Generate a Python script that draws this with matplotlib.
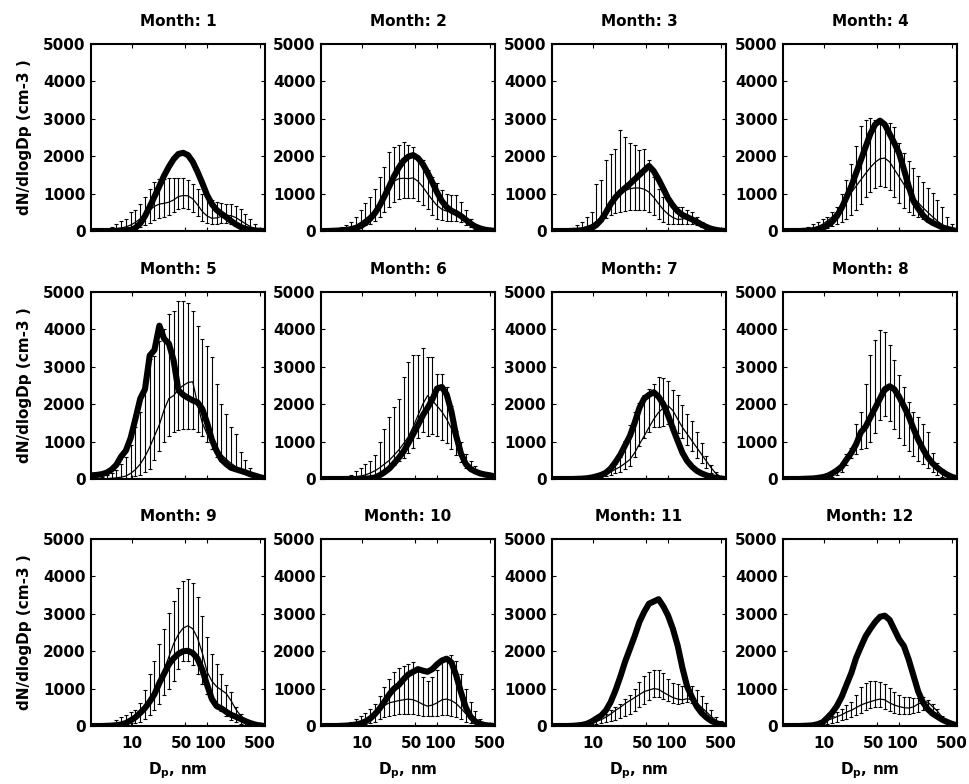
import numpy as np
import matplotlib
matplotlib.use("Agg")
import matplotlib.pyplot as plt
from matplotlib.ticker import FixedLocator, NullLocator, FixedFormatter
from matplotlib.transforms import ScaledTranslation

plt.rcParams['font.family'] = ['DejaVu Sans']
plt.rcParams['font.weight'] = 'bold'
plt.rcParams['font.size'] = 11
plt.rcParams['mathtext.fontset'] = 'custom'
plt.rcParams['mathtext.rm'] = 'DejaVu Sans:bold'
plt.rcParams['mathtext.it'] = 'DejaVu Sans:bold'
plt.rcParams['mathtext.bf'] = 'DejaVu Sans:bold'

# particle diameter bins, nm
dp = [3.0, 3.47, 4.01, 4.64, 5.37, 6.22, 7.19, 8.32, 9.63, 11.1, 12.9, 14.9, 17.2,
      19.9, 23.1, 26.7, 30.9, 35.7, 41.3, 47.8, 55.3, 64.0, 74.1, 85.7, 99.1, 114.7,
      132.7, 153.6, 177.6, 205.5, 237.7, 275, 318, 368, 426, 493, 570]

# thick line, one row per month
thick = [
    [0,0,0,0,0,5,10,20,30,80,200,400,650,920,1200,1480,1720,1920,2060,2090,2030,1850,1580,1280,960,720,560,460,370,270,180,110,60,30,15,5,0],
    [0,0,5,10,20,30,50,80,130,210,330,480,680,930,1200,1470,1700,1880,1990,2030,1950,1790,1560,1300,1030,800,640,540,480,400,300,200,120,70,35,15,5],
    [0,0,0,0,5,10,20,40,80,160,300,500,720,900,1040,1150,1260,1380,1500,1620,1740,1600,1380,1130,870,680,530,430,370,310,240,170,110,60,30,10,0],
    [0,0,0,0,5,10,20,40,80,150,250,400,620,900,1200,1550,1900,2250,2600,2850,2950,2850,2600,2350,2080,1650,1200,800,600,420,300,220,160,100,60,30,0],
    [100,110,130,170,250,380,600,760,1100,1600,2150,2400,3300,3450,4100,3750,3620,3170,2370,2250,2170,2100,2050,1870,1500,1050,750,520,400,300,260,220,180,130,90,50,20],
    [0,0,0,0,0,0,0,0,5,10,20,40,100,180,280,420,570,740,960,1200,1440,1700,1900,2130,2420,2460,2260,1800,1150,680,400,270,200,150,120,100,70],
    [0,0,0,0,0,5,10,20,40,70,110,170,280,450,650,900,1150,1500,1900,2150,2250,2320,2200,2000,1700,1350,1020,700,480,330,220,150,100,60,30,10,0],
    [0,0,0,0,5,10,15,30,50,80,150,230,330,520,700,930,1250,1400,1650,1900,2150,2400,2480,2400,2200,1950,1680,1350,1050,800,580,420,300,200,120,60,20],
    [0,0,0,5,10,20,40,80,150,230,350,480,650,850,1150,1400,1650,1810,1930,2000,2010,1950,1800,1500,1100,720,530,470,380,300,250,190,130,80,40,15,0],
    [0,0,0,0,5,10,20,40,70,120,200,320,470,650,850,1000,1100,1250,1380,1450,1520,1480,1450,1520,1650,1750,1800,1700,1350,900,500,250,120,60,25,10,0],
    [0,0,0,0,5,15,30,60,120,200,280,420,640,950,1320,1720,2060,2400,2780,3050,3270,3330,3390,3200,2950,2600,2150,1550,1050,770,520,350,230,140,80,40,10],
    [0,0,0,0,5,10,20,50,100,220,360,540,780,1100,1420,1820,2120,2400,2600,2780,2920,2950,2840,2580,2320,2140,1780,1350,920,630,450,330,250,170,110,60,20],
]

# thin line
median = [
    [0,5,10,20,40,60,80,110,160,230,330,430,560,660,720,740,770,830,920,950,940,860,700,520,400,340,350,390,420,410,360,280,200,120,60,20,5],
    [0,5,10,20,40,60,100,150,230,320,430,560,740,920,1150,1330,1400,1410,1400,1420,1330,1180,1000,830,680,580,530,520,510,450,340,210,120,60,30,10,0],
    [0,5,10,20,30,50,80,120,170,260,380,540,720,880,1000,1080,1130,1150,1150,1120,1040,900,730,570,450,360,310,320,350,360,320,240,150,80,40,15,5],
    [0,5,10,20,30,50,80,120,180,270,380,520,680,850,1030,1200,1370,1540,1700,1840,1930,1950,1850,1650,1450,1250,1060,900,760,620,500,380,270,170,90,40,10],
    [0,0,5,10,20,30,50,80,150,250,400,600,850,1150,1450,1850,2150,2230,2400,2500,2580,2600,2000,1500,1200,1000,840,650,530,420,330,260,190,130,80,40,20],
    [0,0,5,10,15,25,40,60,80,110,160,220,300,400,500,640,780,950,1130,1400,1700,2000,2230,2100,1950,1800,1600,1350,1000,760,480,340,230,150,90,50,25],
    [0,0,0,5,5,10,15,25,40,60,90,130,190,260,330,420,520,700,930,1150,1380,1600,1780,1900,1960,1830,1600,1380,1200,1020,840,660,480,300,150,60,20],
    [0,0,0,5,10,15,25,40,60,90,120,200,330,500,720,950,1200,1450,1700,1950,2150,2300,2400,2350,2150,1900,1600,1300,1050,800,600,430,310,200,120,60,20],
    [0,0,0,5,10,25,50,90,160,260,380,520,700,900,1130,1500,1850,2200,2450,2620,2680,2600,2350,1950,1450,1200,1050,960,870,680,450,280,170,90,40,15,0],
    [0,0,0,5,10,20,40,70,110,170,250,350,450,550,620,650,680,700,720,700,650,580,530,560,620,700,720,680,600,470,330,200,110,50,20,5,0],
    [0,0,0,0,5,10,20,40,70,120,170,240,320,420,500,600,680,760,840,920,960,1000,980,900,830,760,720,700,730,700,620,500,380,260,150,70,20],
    [0,0,0,0,5,10,20,40,100,150,200,250,300,370,420,490,560,610,650,690,720,700,620,560,520,490,480,510,590,640,640,520,400,240,120,50,15],
]

# lower end of the error bars
err_low = [
    [0,0,0,0,0,0,10,20,40,60,100,150,220,290,340,380,440,520,590,610,590,520,400,280,220,200,200,210,210,190,160,120,70,40,20,5,0],
    [0,0,0,5,10,20,40,60,100,150,200,280,380,500,640,780,850,880,880,870,800,700,580,440,330,290,280,280,270,230,170,110,60,30,10,5,0],
    [0,0,0,5,10,20,40,70,110,180,260,340,420,480,520,540,560,560,560,550,520,440,330,250,200,190,190,200,200,180,150,100,60,30,10,5,0],
    [0,0,0,5,10,15,25,40,60,90,130,180,250,330,430,560,720,900,1050,1150,1190,1170,1100,900,740,620,520,440,380,320,250,200,150,110,60,30,5],
    [0,0,0,0,0,5,10,20,40,70,110,180,280,500,750,1000,1150,1250,1300,1330,1330,1330,1250,1150,1000,800,600,480,380,300,230,180,130,80,40,20,5],
    [0,0,0,0,5,10,15,25,35,50,70,100,140,200,280,380,480,570,700,840,1100,1250,1150,1200,1150,1050,950,800,650,450,300,220,160,110,70,40,20],
    [0,0,0,0,0,5,5,10,20,30,50,70,100,150,200,260,350,580,870,1100,1270,1380,1400,1430,1460,1410,1240,1090,920,750,570,440,300,170,80,30,5],
    [0,0,0,0,0,5,10,15,25,40,60,100,180,380,570,680,790,820,1000,1230,1570,1680,1550,1350,1090,910,740,610,480,390,300,180,110,60,30,10,0],
    [0,0,0,0,0,5,10,20,40,70,120,200,300,430,600,830,1000,1210,1520,1740,1740,1620,1400,1130,850,680,530,390,260,160,100,60,30,10,0,0,0],
    [0,0,0,0,0,5,10,20,30,50,80,120,180,230,280,300,320,330,330,320,300,280,260,260,280,300,300,280,240,180,120,70,30,10,0,0,0],
    [0,0,0,0,0,5,10,20,30,50,70,100,130,170,220,260,330,400,500,600,700,770,780,730,660,610,600,610,640,620,540,420,300,200,120,50,10],
    [0,0,0,0,0,5,10,20,40,60,80,110,150,200,250,300,350,420,470,510,500,460,400,350,330,330,330,350,380,420,420,360,260,160,80,30,10],
]

# upper end of the error bars
err_high = [
    [0,5,20,50,110,200,270,330,500,550,730,910,1130,1310,1380,1400,1420,1420,1420,1420,1360,1270,1130,1000,910,820,780,750,730,710,670,600,460,330,200,80,20],
    [0,5,15,40,100,160,250,380,560,740,920,1130,1450,1710,2110,2250,2290,2380,2300,2250,1990,1900,1630,1450,1280,1090,1000,960,960,780,560,330,200,110,60,20,5],
    [0,5,15,40,80,150,240,375,510,1270,1360,1900,2070,2200,2700,2520,2360,2300,2160,2200,1890,1450,1130,910,820,730,640,640,550,500,375,200,110,60,30,10,5],
    [0,10,20,40,70,120,180,250,330,380,500,650,1000,1370,1800,2260,2800,2970,3020,2970,2880,2790,2880,2790,2350,2080,1860,1680,1460,1320,1140,1010,830,650,380,200,50],
    [30,40,60,100,150,250,400,600,900,1400,1800,2500,3200,3300,3700,4000,4400,4500,4750,4750,4700,4500,4100,3750,3550,3250,2550,2000,1750,1400,1200,720,500,300,150,60,20],
    [0,5,15,30,50,80,120,210,300,390,480,650,980,1340,1650,1920,2140,2720,3130,3310,3310,3490,3260,3260,2810,2810,2460,1960,1290,980,660,480,350,215,130,80,40],
    [0,0,0,5,10,15,25,40,60,90,120,160,290,400,590,1020,1450,1800,2040,2250,2400,2550,2720,2710,2620,2380,2250,1980,1730,1560,1250,960,620,380,200,80,20],
    [0,5,10,20,20,30,50,70,100,150,200,300,390,660,840,1470,1780,2540,3310,3710,3980,3940,3580,3170,2770,2460,2050,1780,1650,1470,1250,700,440,260,150,80,20],
    [0,10,20,40,80,150,250,300,380,430,610,960,1400,1750,2200,2600,3030,3330,3700,3880,3930,3820,3450,2950,2380,1930,1660,1380,1100,900,500,330,200,100,50,20,0],
    [0,5,10,20,40,70,110,180,260,350,450,600,800,1050,1250,1450,1550,1600,1650,1700,1500,1300,1200,1300,1500,1700,1850,1900,1750,1400,1000,650,400,200,80,30,0],
    [0,0,5,10,20,30,50,90,170,250,280,330,420,500,600,730,840,990,1180,1330,1440,1500,1500,1410,1260,1160,1110,1080,1060,1080,960,810,620,430,250,130,30],
    [0,0,5,10,20,40,60,100,160,210,280,380,450,550,650,820,1050,1160,1190,1190,1170,1120,1010,920,830,780,780,760,760,780,690,580,450,280,150,60,20],
]

titles = ["Month: %d" % m for m in range(1, 13)]
xticks = [10, 50, 100, 500]
xticklabels = ["10", "50", "100", "500"]
yticks = [0, 1000, 2000, 3000, 4000, 5000]

W, H = 969, 784
fig = plt.figure(figsize=(W / 100, H / 100), dpi=100)

col_left = [91, 321, 552, 783]
row_top = [44, 292, 539]
aw, ah = 174, 187

x = np.array(dp)
for i in range(12):
    r, c = divmod(i, 4)
    ax = fig.add_axes([col_left[c] / W, (H - row_top[r] - ah) / H, aw / W, ah / H])
    m = np.array(median[i], dtype=float)
    lo = np.clip(m - np.array(err_low[i]), 0, None)
    hi = np.clip(np.array(err_high[i]) - m, 0, None)
    ax.errorbar(x, m, yerr=[lo, hi], fmt='-', color='k', lw=0.9,
                elinewidth=0.8, capsize=1.6, capthick=0.8, zorder=2)
    ax.plot(x, thick[i], color='k', lw=4.4, solid_joinstyle='round', zorder=3)

    ax.set_xscale('log')
    ax.set_xlim(2.87, 580)
    ax.set_ylim(0, 5000)
    ax.xaxis.set_major_locator(FixedLocator(xticks))
    ax.xaxis.set_minor_locator(NullLocator())
    ax.yaxis.set_major_locator(FixedLocator(yticks))
    ax.tick_params(axis='both', direction='in', top=True, right=True,
                   length=3, width=0.8, labelsize=11)
    ax.tick_params(axis='x', pad=7)
    ax.tick_params(axis='y', pad=4)
    if r == 2:
        ax.xaxis.set_major_formatter(FixedFormatter(xticklabels))
        ax.set_xlabel('D$_p$, nm', fontsize=11, fontweight='bold', labelpad=7)
        # "50" and "100" sit close together, nudge them apart a little
        for t, lab in zip(ax.xaxis.get_major_ticks(), xticklabels):
            if lab == "50":
                t.label1.set_transform(t.label1.get_transform() +
                                       ScaledTranslation(-0.03, 0, fig.dpi_scale_trans))
            elif lab == "100":
                t.label1.set_transform(t.label1.get_transform() +
                                       ScaledTranslation(0.03, 0, fig.dpi_scale_trans))
    else:
        ax.set_xticklabels([])
    for s in ax.spines.values():
        s.set_linewidth(1.5)
    ax.set_title(titles[i], fontsize=11, fontweight='bold', pad=13)
    if c == 0:
        ax.set_ylabel('dN/dlogDp (cm-3 )', fontsize=11, fontweight='bold', labelpad=8)

fig.savefig('out.png', dpi=100)
